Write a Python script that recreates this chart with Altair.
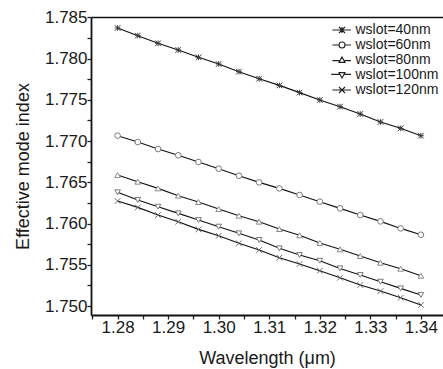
import altair as alt
import pandas as pd

wavelength = [1.280, 1.284, 1.288, 1.292, 1.296, 1.300, 1.304, 1.308,
              1.312, 1.316, 1.320, 1.324, 1.328, 1.332, 1.336, 1.340]

series_names = ["wslot=40nm", "wslot=60nm", "wslot=80nm", "wslot=100nm", "wslot=120nm"]

n40 = [1.78371, 1.78278, 1.78185, 1.78104, 1.78015, 1.77934, 1.77841, 1.77756,
       1.77675, 1.77587, 1.77498, 1.77417, 1.77328, 1.77231, 1.77154, 1.77065]
n60 = [1.77065, 1.76988, 1.76903, 1.76827, 1.76746, 1.76665, 1.76580, 1.76499,
       1.76426, 1.76346, 1.76265, 1.76184, 1.76103, 1.76026, 1.75941, 1.75864]
n80 = [1.76588, 1.76507, 1.76426, 1.76338, 1.76261, 1.76176, 1.76095, 1.76022,
       1.75933, 1.75857, 1.75764, 1.75687, 1.75606, 1.75525, 1.75452, 1.75367]
n100 = [1.76378, 1.76285, 1.76204, 1.76123, 1.76042, 1.75962, 1.75881, 1.75800,
        1.75699, 1.75618, 1.75549, 1.75456, 1.75376, 1.75295, 1.75214, 1.75133]
n120 = [1.76273, 1.76196, 1.76103, 1.76022, 1.75929, 1.75852, 1.75760, 1.75679,
        1.75586, 1.75509, 1.75428, 1.75343, 1.75254, 1.75181, 1.75101, 1.75012]

x_ticks = [1.275, 1.280, 1.285, 1.290, 1.295, 1.300, 1.305, 1.310, 1.315,
           1.320, 1.325, 1.330, 1.335, 1.340]
y_ticks = [1.7500, 1.7525, 1.7550, 1.7575, 1.7600, 1.7625, 1.7650, 1.7675,
           1.7700, 1.7725, 1.7750, 1.7775, 1.7800, 1.7825, 1.7850]

rows = []
for name, vals in zip(series_names, [n40, n60, n80, n100, n120]):
    for w, v in zip(wavelength, vals):
        rows.append({"series": name, "wavelength": w, "neff": v})
df = pd.DataFrame(rows)

FONT = "Liberation Sans"
TXT = "#1a1a1a"

marker_shapes = [
    "M-1,-1L1,1M-1,1L1,-1M-1,0L1,0M0,-1L0,1",
    "circle",
    "triangle-up",
    "triangle-down",
    "M-1,-1L1,1M-1,1L1,-1",
]
legend_shapes = [
    "M-3.2,0L-1,0M1,0L3,0M-1,-1L1,1M-1,1L1,-1M-1,0L1,0M0,-1L0,1",
    "M-3.2,0L-1,0M1,0L3,0M-1,0A1,1,0,1,1,1,0A1,1,0,1,1,-1,0Z",
    "M-3.2,0.2L-0.6,0.2M0.6,0.2L3,0.2M0,-1L1,0.8L-1,0.8Z",
    "M-3.6,-0.2L-0.6,-0.2M0.6,-0.2L3,-0.2M-1,-0.8L1,-0.8L0,1Z",
    "M-3.2,0L3,0M-1,-1L1,1M-1,1L1,-1",
]

x_scale = alt.Scale(domain=[1.27474, 1.34437], nice=False, zero=False)
y_scale = alt.Scale(domain=[1.74891, 1.78504], nice=False, zero=False)

y_axis = alt.Axis(
    title="Effective mode index", values=y_ticks,
    labelExpr="abs(datum.value*200 - round(datum.value*200)) < 0.01 ? format(datum.value, '.3f') : ''",
    labelFont=FONT, labelFontSize=17, labelColor=TXT, labelPadding=0,
    titleFont=FONT, titleFontSize=18, titleFontWeight="normal", titleColor=TXT,
    titleX=-68, titleBaseline="middle",
    tickSize=4, tickColor="#222", tickWidth=1.3,
    domainColor="#111", domainWidth=1.8, grid=False,
)
x_axis = alt.Axis(
    title="Wavelength (μm)", values=x_ticks, orient="bottom",
    labelExpr="abs(datum.value*100 - round(datum.value*100)) < 0.01 ? format(datum.value, '.2f') : ''",
    labelFont=FONT, labelFontSize=17, labelColor=TXT, labelPadding=0,
    titleFont=FONT, titleFontSize=18, titleFontWeight="normal", titleColor=TXT,
    titleY=48, titleBaseline="alphabetic",
    tickSize=4, tickColor="#222", tickWidth=1.3,
    domainColor="#111", domainWidth=1.8, grid=False,
)
top_axis = alt.Axis(orient="top", title=None, labels=False, ticks=False,
                    domainColor="#111", domainWidth=1.6, grid=False)

base = alt.Chart(df)

lines = base.mark_line(color="#111", strokeWidth=1.1).encode(
    x=alt.X("wavelength:Q", scale=x_scale, axis=x_axis),
    y=alt.Y("neff:Q", scale=y_scale, axis=y_axis),
    detail="series:N",
)

points = base.mark_point(filled=True, fill="white", fillOpacity=1, strokeWidth=1, opacity=1, size=32).encode(
    x=alt.X("wavelength:Q", scale=x_scale, axis=top_axis),
    y=alt.Y("neff:Q", scale=y_scale, axis=y_axis),
    shape=alt.Shape("series:N", scale=alt.Scale(domain=series_names, range=marker_shapes), legend=None),
    stroke=alt.Stroke("series:N", scale=alt.Scale(domain=series_names,
                      range=["#3a3a3a", "#7a7a7a", "#8a8a8a", "#7a7a7a", "#6a6a6a"]), legend=None),
)

legend_layer = base.transform_filter("false").mark_point(
    filled=False, stroke="#222", color="#222", strokeWidth=1.1, opacity=1, size=36
).encode(
    x=alt.X("wavelength:Q", scale=x_scale, axis=None),
    y=alt.Y("neff:Q", scale=y_scale, axis=y_axis),
    shape=alt.Shape("series:N", scale=alt.Scale(domain=series_names, range=legend_shapes),
                    legend=alt.Legend(
                        title=None, orient="none", legendX=244, legendY=6,
                        padding=0, rowPadding=1, labelOffset=6.5,
                        symbolSize=36, symbolOpacity=1,
                        symbolStrokeColor="#222", symbolStrokeWidth=1.1,
                        labelFont=FONT, labelFontSize=14, labelColor=TXT,
                    )),
)

chart = alt.layer(lines, points, legend_layer).resolve_scale(
    shape="independent", stroke="independent"
).resolve_axis(x="independent").properties(
    width=352, height=298,
    autosize=alt.AutoSizeParams(type="none"),
    padding={"left": 91, "top": 17, "right": 0, "bottom": 54},
).configure_view(stroke=None).configure(background="white")

chart.save("out.html", embed_options={"renderer": "svg", "actions": False})
